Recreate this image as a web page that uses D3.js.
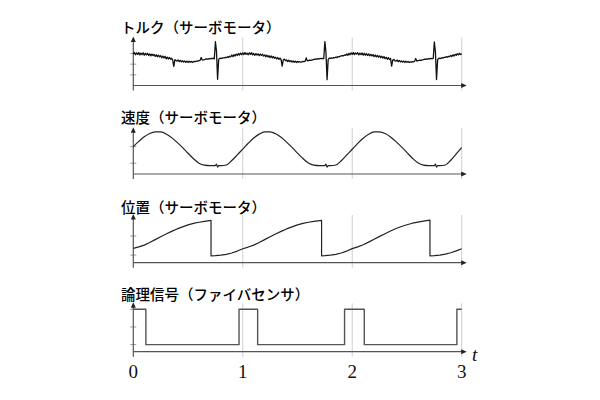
<!DOCTYPE html>
<html>
<head>
<meta charset="utf-8">
<script src="https://d3js.org/d3.v7.min.js"></script>
<style>
body { margin: 0; background: #fff; }
</style>
</head>
<body>
<svg id="mainSvg" width="600" height="400"></svg>
<script>
// time axis
var timeTicks = [0, 1, 2, 3];
var timeTickLabels = ["0", "1", "2", "3"];
var gridTimes = [1, 2, 3];

// torque, sampled every 0.01 from t = 0 to t = 3
var torqueStep = 0.01;
var torque = [
	2.95, 3.10, 2.88, 3.06, 2.91, 3.08, 2.86, 3.04, 2.89, 3.07,
	2.84, 3.02, 2.87, 3.01, 2.82, 2.97, 2.78, 2.94, 2.81, 2.92,
	2.72, 2.88, 2.69, 2.85, 2.68, 2.80, 2.60, 2.76, 2.58, 2.73,
	2.50, 2.66, 2.48, 2.63, 2.47, 2.55, 2.38, 1.80, 2.42, 2.34,
	2.28, 2.40, 2.24, 2.36, 2.22, 2.33, 2.20, 2.30, 2.17, 2.29,
	2.16, 2.27, 2.19, 2.26, 2.17, 2.23, 2.27, 2.25, 2.30, 2.29,
	2.33, 2.36, 2.62, 2.38, 2.40, 2.43, 2.47, 2.50, 2.46, 2.52,
	2.49, 2.55, 2.51, 2.56, 2.50, 4.10, 3.20, 0.58, 2.45, 2.55,
	2.57, 2.53, 2.60, 2.58, 2.63, 2.61, 2.70, 2.64, 2.74, 2.68,
	2.86, 2.71, 2.89, 2.77, 2.94, 2.82, 2.99, 2.86, 3.04, 2.89,
	3.05, 2.90, 3.09, 2.92, 3.03, 2.88, 3.06, 2.91, 3.08, 2.87,
	3.00, 2.83, 2.99, 2.86, 2.97, 2.80, 2.95, 2.82, 2.93, 2.76,
	2.87, 2.70, 2.84, 2.67, 2.79, 2.62, 2.77, 2.59, 2.72, 2.55,
	2.65, 2.49, 2.62, 2.45, 2.57, 2.42, 1.82, 2.41, 2.47, 2.33,
	2.39, 2.25, 2.37, 2.23, 2.33, 2.20, 2.31, 2.18, 2.29, 2.16,
	2.26, 2.19, 2.23, 2.18, 2.22, 2.26, 2.24, 2.28, 2.58, 2.31,
	2.34, 2.37, 2.35, 2.39, 2.41, 2.44, 2.46, 2.49, 2.47, 2.51,
	2.50, 2.54, 2.52, 2.55, 2.53, 4.12, 3.10, 0.55, 2.42, 2.56,
	2.54, 2.59, 2.56, 2.62, 2.60, 2.66, 2.62, 2.72, 2.67, 2.75,
	2.78, 2.81, 2.79, 2.86, 2.83, 2.95, 2.84, 3.01, 2.88, 3.06,
	2.92, 3.08, 2.89, 3.05, 2.94, 3.07, 2.87, 3.03, 2.90, 3.05,
	2.85, 3.01, 2.84, 2.98, 2.81, 2.96, 2.79, 2.92, 2.77, 2.90,
	2.71, 2.86, 2.68, 2.83, 2.66, 2.78, 2.61, 2.74, 2.56, 2.71,
	2.52, 2.64, 2.46, 2.61, 2.44, 2.54, 1.82, 2.38, 2.44, 2.32,
	2.29, 2.38, 2.23, 2.35, 2.21, 2.31, 2.19, 2.29, 2.16, 2.27,
	2.17, 2.25, 2.16, 2.22, 2.19, 2.24, 2.22, 2.27, 2.53, 2.29,
	2.33, 2.35, 2.38, 2.36, 2.41, 2.43, 2.47, 2.45, 2.50, 2.48,
	2.52, 2.49, 2.54, 2.51, 2.55, 4.08, 3.15, 0.56, 2.40, 2.55,
	2.56, 2.53, 2.61, 2.57, 2.64, 2.63, 2.71, 2.65, 2.73, 2.70,
	2.82, 2.72, 2.88, 2.77, 2.92, 2.83, 2.98, 2.87, 3.02, 2.91,
	2.97
];

// velocity [t, v]
var velocity = [
	[0.00, 1.00], [0.05, 1.31], [0.10, 1.59], [0.15, 1.79], [0.20, 1.89], [0.25, 1.88],
	[0.30, 1.76], [0.35, 1.54], [0.40, 1.25], [0.45, 0.94], [0.50, 0.60], [0.55, 0.27],
	[0.60, 0.00], [0.65, -0.12], [0.70, -0.15], [0.75, -0.15], [0.76, -0.05], [0.77, -0.24],
	[0.78, -0.15], [0.80, -0.15], [0.85, -0.11], [0.90, 0.16], [0.95, 0.50],
	[1.00, 0.85], [1.05, 1.20], [1.10, 1.52], [1.15, 1.75], [1.20, 1.88], [1.25, 1.88],
	[1.30, 1.77], [1.35, 1.56], [1.40, 1.27], [1.45, 0.95], [1.50, 0.61], [1.55, 0.28],
	[1.60, 0.01], [1.65, -0.12], [1.70, -0.15], [1.75, -0.15], [1.76, -0.05], [1.77, -0.24],
	[1.78, -0.15], [1.80, -0.15], [1.85, -0.11], [1.90, 0.15], [1.95, 0.50],
	[2.00, 0.84], [2.05, 1.19], [2.10, 1.50], [2.15, 1.74], [2.20, 1.88], [2.25, 1.89],
	[2.30, 1.79], [2.35, 1.58], [2.40, 1.30], [2.45, 0.98], [2.50, 0.64], [2.55, 0.30],
	[2.60, 0.02], [2.65, -0.12], [2.70, -0.15], [2.75, -0.15], [2.76, -0.05], [2.77, -0.24],
	[2.78, -0.15], [2.80, -0.15], [2.85, -0.11], [2.90, 0.18], [2.95, 0.56], [3.00, 0.94]
];

// position [t, p]
var position = [
	[0.00, 0.35], [0.05, 0.43], [0.10, 0.52], [0.15, 0.66], [0.20, 0.81], [0.25, 0.96],
	[0.30, 1.10], [0.35, 1.24], [0.40, 1.37], [0.45, 1.48], [0.50, 1.58], [0.55, 1.66],
	[0.60, 1.72], [0.65, 1.77], [0.71, 1.82], [0.71, -0.04], [0.75, -0.03], [0.80, 0.00],
	[0.85, 0.04], [0.90, 0.11], [0.95, 0.21],
	[1.00, 0.33], [1.05, 0.42], [1.10, 0.52], [1.15, 0.66], [1.20, 0.81], [1.25, 0.96],
	[1.30, 1.10], [1.35, 1.24], [1.40, 1.37], [1.45, 1.48], [1.50, 1.58], [1.55, 1.66],
	[1.60, 1.72], [1.65, 1.77], [1.72, 1.82], [1.72, -0.04], [1.75, -0.03], [1.80, 0.00],
	[1.85, 0.04], [1.90, 0.11], [1.95, 0.21],
	[2.00, 0.34], [2.05, 0.43], [2.10, 0.54], [2.15, 0.68], [2.20, 0.83], [2.25, 0.98],
	[2.30, 1.12], [2.35, 1.26], [2.40, 1.39], [2.45, 1.50], [2.50, 1.59], [2.55, 1.67],
	[2.60, 1.73], [2.65, 1.78], [2.71, 1.83], [2.71, -0.04], [2.75, -0.03], [2.80, 0.00],
	[2.85, 0.05], [2.90, 0.12], [2.95, 0.22], [3.00, 0.33]
];

// fibre sensor logic level [t, level], held until next change
var logicSignal = [
	[0.000, 1], [0.115, 0], [0.966, 1], [1.136, 0], [1.930, 1], [2.110, 0], [2.956, 1], [3.000, 1]
];

var titles = ["トルク（サーボモータ）", "速度（サーボモータ）", "位置（サーボモータ）", "論理信号（ファイバセンサ）"];
var yDomains = [[0, 4.5], [-0.65, 2.1], [-0.4, 2.1], [-0.2, 1.17]];
var yTicks = [[1, 2, 3], [0, 1], [0, 1], [0, 0.5, 1]];

// layout
var panelTop = [37.5, 128.3, 215, 303.3];
var panelBottom = [85.5, 174, 262.7, 351.7];
var titleBase = [33, 123, 213, 300];

var mainSvg = d3.select("#mainSvg");
var x = d3.scaleLinear().domain([0, 3]).range([133.3, 461.7]);

function drawPanel(i, points, curve, col, width)
{
	var y = d3.scaleLinear().domain(yDomains[i]).range([panelBottom[i], panelTop[i]]);
	var g = mainSvg.append("g");
	g.selectAll("line.grid").data(gridTimes).enter().append("line")
		.attr("x1", function(d) { return x(d); }).attr("x2", function(d) { return x(d); })
		.attr("y1", panelTop[i]).attr("y2", panelBottom[i] + 5)
		.attr("style", "stroke:#cfcfcf;stroke-width:1");
	g.selectAll("line.tick").data(yTicks[i]).enter().append("line")
		.attr("x1", x(0) - 3).attr("x2", x(0) + 3)
		.attr("y1", function(d) { return y(d); }).attr("y2", function(d) { return y(d); })
		.attr("style", "stroke:#999;stroke-width:1");
	// axes
	g.append("line").attr("x1", x(0)).attr("x2", x(0)).attr("y1", panelBottom[i] + 5).attr("y2", panelTop[i] + 2)
		.attr("style", "stroke:#555;stroke-width:1.2");
	g.append("line").attr("x1", x(0)).attr("x2", x(3) + 2).attr("y1", panelBottom[i]).attr("y2", panelBottom[i])
		.attr("style", "stroke:#555;stroke-width:1.2");
	g.append("path").attr("d", "M" + x(0) + "," + (panelTop[i] - 1) + "l-2.5,5.5h5z").attr("fill", "#222");
	g.append("path").attr("d", "M" + (x(3) + 5) + "," + panelBottom[i] + "l-5.5,-2.5v5z").attr("fill", "#222");
	// signal
	var line = d3.line().x(function(d) { return x(d[0]); }).y(function(d) { return y(d[1]); }).curve(curve);
	g.append("path").datum(points).attr("d", line)
		.attr("fill", "none").attr("stroke", col).attr("stroke-width", width).attr("stroke-linejoin", "round");
	g.append("text").attr("x", 121).attr("y", titleBase[i])
		.attr("font-family", "'Noto Sans CJK JP', 'Noto Sans', sans-serif").attr("font-size", "14.5px")
		.attr("font-weight", "500").attr("fill", "#000").text(titles[i]);
}

var torquePoints = torque.map(function(v, k) { return [k * torqueStep, v]; });
drawPanel(0, torquePoints, d3.curveLinear, "#111", 1.3);
drawPanel(1, velocity, d3.curveMonotoneX, "#222", 1.2);
drawPanel(2, position, d3.curveLinear, "#222", 1.2);
drawPanel(3, logicSignal, d3.curveStepAfter, "#555", 1.4);

mainSvg.selectAll("text.tlabel").data(timeTicks).enter().append("text")
	.attr("x", function(d) { return x(d); }).attr("y", 378)
	.attr("text-anchor", "middle")
	.attr("font-family", "'Liberation Serif', 'DejaVu Serif', serif").attr("font-size", "19px")
	.attr("fill", "#111")
	.text(function(d, k) { return timeTickLabels[k]; });
mainSvg.append("text").attr("x", 472).attr("y", 361)
	.attr("font-family", "'Liberation Serif', 'DejaVu Serif', serif").attr("font-size", "19px")
	.attr("font-style", "italic").attr("fill", "#111").text("t");
</script>
</body>
</html>
